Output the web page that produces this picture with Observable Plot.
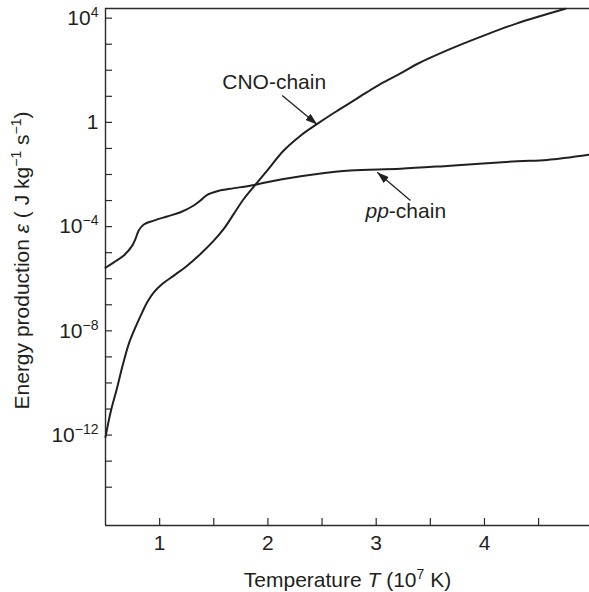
<!DOCTYPE html>
<html><head><meta charset="utf-8">
<script src="https://cdn.jsdelivr.net/npm/d3@7"></script>
<script src="https://cdn.jsdelivr.net/npm/@observablehq/plot@0.6"></script>
<style>body{margin:0;background:#fff} #chart svg{display:block}</style>
</head><body><div id="chart"></div>
<script>
// ---- data (temperature in 10^7 K, energy production as log10 of J kg^-1 s^-1) ----
const cnoT = [0.5, 0.546, 0.608, 0.654, 0.715, 0.777, 0.839, 0.885, 0.946, 1.024, 1.131, 1.254, 1.377, 1.5, 1.592, 1.685, 1.777, 1.885, 1.993, 2.146, 2.301, 2.455, 2.608, 2.762, 2.916, 3.07, 3.224, 3.378, 3.686, 3.993, 4.301, 4.747];
const cnoLog10 = [-12.08, -11.14, -10.17, -9.40, -8.50, -7.86, -7.29, -6.90, -6.52, -6.20, -5.88, -5.50, -5.05, -4.54, -4.09, -3.51, -2.94, -2.39, -1.85, -1.08, -0.51, -0.06, 0.36, 0.76, 1.16, 1.54, 1.88, 2.24, 2.82, 3.33, 3.80, 4.36];
const ppT = [0.5, 0.577, 0.669, 0.747, 0.777, 0.807, 0.854, 0.946, 1.07, 1.193, 1.315, 1.377, 1.439, 1.531, 1.654, 1.885, 2.146, 2.455, 2.762, 3.224, 3.686, 4.302, 4.578, 4.97];
const ppLog10 = [-5.58, -5.37, -5.11, -4.73, -4.47, -4.15, -3.92, -3.77, -3.61, -3.45, -3.19, -3.00, -2.78, -2.64, -2.55, -2.39, -2.17, -1.98, -1.85, -1.78, -1.66, -1.49, -1.44, -1.24];

const xDomain = [0.5, 4.97];
const yDomainExp = [-15.47, 4.37];
const xTicks = [1, 1.5, 2, 2.5, 3, 3.5, 4, 4.5];
const xTickLabels = ["1", "", "2", "", "3", "", "4", ""];
const yTickExponents = [-14, -13, -12, -11, -10, -9, -8, -7, -6, -5, -4, -3, -2, -1, 0, 1, 2, 3, 4];
const yLabeledExponents = [4, 0, -4, -8, -12];

const xLabelSegs = [["Temperature ", ""], ["T", "i"], [" (10", ""], ["7", "sup"], [" K)", ""]];
const yLabelSegs = [["Energy production ", ""], ["ε", "i"], [" ( J kg", ""], ["−1", "sup"], [" s", ""], ["−1", "sup"], [")", ""]];

const curveLabels = [{text: "CNO-chain", x: 2.058, e: 1.285}];
const ppLabel = [{x: 3.117, e: -3.653}];
const arrows = [
  {x1: 2.132, e1: 1.028, x2: 2.455, e2: -0.084},
  {x1: 3.316, e1: -3.00, x2: 3.009, e2: -1.915}
];

// ---- build ----
const cno = cnoT.map((t, i) => ({t, eps: 10 ** cnoLog10[i]}));
const pp = ppT.map((t, i) => ({t, eps: 10 ** ppLog10[i]}));
const ink = "#231f20";
const plain = segs => segs.map(s => s[0]).join("");
const xLabelPlain = plain(xLabelSegs);
const yLabelPlain = plain(yLabelSegs);

const svg = Plot.plot({
  width: 589, height: 592,
  marginLeft: 105, marginRight: 0, marginTop: 8, marginBottom: 67,
  style: {fontFamily: "'Liberation Sans', Arial, Helvetica, sans-serif", fontSize: "21px", color: ink, background: "#fff", overflow: "visible"},
  x: {domain: xDomain},
  y: {type: "log", domain: yDomainExp.map(e => 10 ** e)},
  marks: [
    Plot.ruleX([xDomain[0]], {stroke: "#2b2b2b", strokeWidth: 1.4}),
    Plot.ruleY(yDomainExp.map(e => 10 ** e), {stroke: "#2b2b2b", strokeWidth: 1.4}),
    Plot.axisX({ticks: xTicks, tickSize: -7, tickPadding: 17, label: null, stroke: "#2b2b2b", strokeWidth: 1.2,
      tickFormat: d => xTickLabels[xTicks.indexOf(d)] ?? ""}),
    Plot.axisY({ticks: yTickExponents.map(e => 10 ** e), tickSize: -7, tickPadding: 14, label: null, stroke: "#2b2b2b", strokeWidth: 1.2,
      tickFormat: d => {
        const e = Math.round(Math.log10(d));
        if (!yLabeledExponents.includes(e)) return "";
        return e === 0 ? "1" : "10^" + String(e).replace("-", "−");
      }}),
    Plot.line(cno, {x: "t", y: "eps", curve: "catmull-rom", stroke: ink, strokeWidth: 2}),
    Plot.line(pp, {x: "t", y: "eps", curve: "catmull-rom", stroke: ink, strokeWidth: 2}),
    Plot.link(arrows, {x1: "x1", y1: d => 10 ** d.e1, x2: "x2", y2: d => 10 ** d.e2, stroke: ink, strokeWidth: 1.3}),
    Plot.text(curveLabels, {x: "x", y: d => 10 ** d.e, text: "text", textAnchor: "middle", lineAnchor: "bottom", fill: ink}),
    Plot.text(ppLabel, {x: "x", y: d => 10 ** d.e, text: () => "pp", fontStyle: "italic", textAnchor: "end", lineAnchor: "bottom", fill: ink}),
    Plot.text(ppLabel, {x: "x", y: d => 10 ** d.e, text: () => "-chain", textAnchor: "start", lineAnchor: "bottom", fill: ink}),
    Plot.text([xLabelPlain], {frameAnchor: "bottom", textAnchor: "middle", lineAnchor: "bottom", dy: 61, fill: ink}),
    Plot.text([yLabelPlain], {frameAnchor: "left", textAnchor: "middle", rotate: -90, lineAnchor: "bottom", dx: -77, dy: -6.5, fill: ink})
  ]
});

// ---- rich text (italics / superscripts) ----
const ns = "http://www.w3.org/2000/svg";
function setRich(el, segs, shift, size) {
  el.textContent = "";
  let raised = false;
  for (const [s, kind] of segs) {
    const t = document.createElementNS(ns, "tspan");
    t.textContent = s;
    if (kind === "i") t.setAttribute("font-style", "italic");
    if (kind === "sup") {
      t.setAttribute("font-size", size);
      if (!raised) t.setAttribute("dy", -shift);
      raised = true;
    } else if (raised) {
      t.setAttribute("dy", shift);
      raised = false;
    }
    el.appendChild(t);
  }
}
svg.querySelectorAll("text").forEach(el => {
  const s = el.textContent;
  if (s.includes("^")) {
    const [b, p] = s.split("^");
    setRich(el, [[b, ""], [p, "sup"]], 8, 14);
  } else if (s === xLabelPlain) {
    setRich(el, xLabelSegs, 8, 14);
  } else if (s === yLabelPlain) {
    setRich(el, yLabelSegs, 8, 14);
  }
});

// filled arrow heads
const defs = document.createElementNS(ns, "defs");
const marker = document.createElementNS(ns, "marker");
marker.setAttribute("id", "filled-arrow");
marker.setAttribute("viewBox", "0 0 12 8");
marker.setAttribute("refX", "12");
marker.setAttribute("refY", "4");
marker.setAttribute("markerWidth", "12");
marker.setAttribute("markerHeight", "8");
marker.setAttribute("markerUnits", "userSpaceOnUse");
marker.setAttribute("orient", "auto");
const mp = document.createElementNS(ns, "path");
mp.setAttribute("d", "M0,0L12,4L0,8Z");
mp.setAttribute("fill", ink);
marker.appendChild(mp);
defs.appendChild(marker);
svg.prepend(defs);
svg.querySelectorAll('g[aria-label="link"] path').forEach(p => p.setAttribute("marker-end", "url(#filled-arrow)"));

document.getElementById("chart").appendChild(svg);
</script>
</body></html>
